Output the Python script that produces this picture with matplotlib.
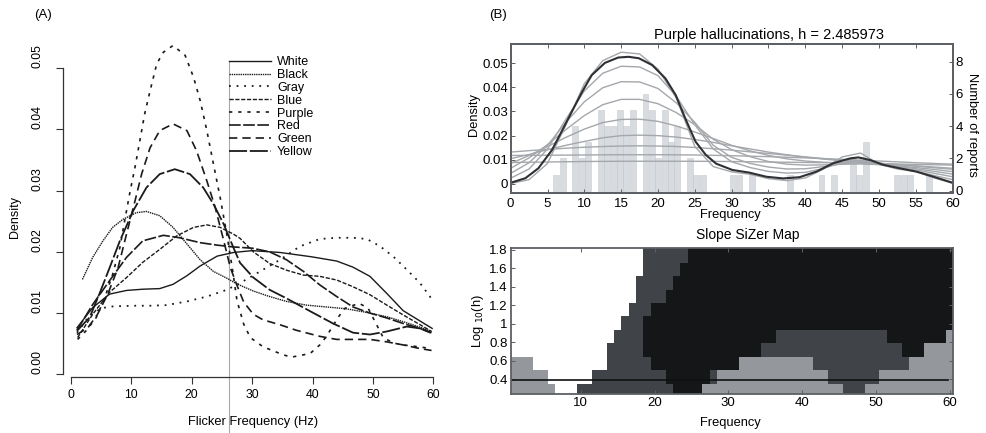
import matplotlib
matplotlib.use("Agg")
import matplotlib.pyplot as plt
import numpy as np
from matplotlib.colors import ListedColormap
from matplotlib.lines import Line2D

plt.rcParams['font.family'] = ['Liberation Sans', 'DejaVu Sans']
plt.rcParams['font.size'] = 9

# ---------------------------------------------------------------- panel A data
# density curves per hallucination colour
white_x = [1, 3.6, 6.4, 9.2, 11.9, 14.7, 16.9, 19.2, 21.4, 24.2, 26.9, 30, 34.6, 39.8, 44, 46.7, 49.5, 52.3, 55, 57.8, 59.8]
white_y = [0.0076, 0.0109, 0.0131, 0.0137, 0.0139, 0.0140, 0.0147, 0.0161, 0.0177, 0.0193, 0.0199, 0.0202, 0.0199,
           0.0192, 0.0185, 0.0175, 0.0160, 0.0132, 0.0104, 0.0087, 0.0075]

black_x = [1.9, 3.6, 5.3, 6.9, 8.6, 10.8, 12.5, 14.7, 16.9, 19.2, 21.4, 23.6, 25.8, 27.4, 30.2, 32.9, 35.7, 39, 42.3,
           45.6, 49, 52.3, 55, 57.8, 59.7]
black_y = [0.0155, 0.0191, 0.0218, 0.0240, 0.0253, 0.0264, 0.0266, 0.0259, 0.0240, 0.0213, 0.0187, 0.0168, 0.0157,
           0.0148, 0.0136, 0.0127, 0.0119, 0.0113, 0.0110, 0.0107, 0.0101, 0.0094, 0.0086, 0.0077, 0.0070]

gray_x = [1, 3, 5, 7, 10.3, 13, 15.8, 19.2, 22.5, 25.8, 28, 31.3, 34.6, 37.9, 41.2, 44, 46.7, 49, 51.2, 53.4, 55.6, 57.8, 59.8]
gray_y = [0.0068, 0.0095, 0.0108, 0.0111, 0.0112, 0.0112, 0.0113, 0.0119, 0.0127, 0.0138, 0.0149, 0.0168, 0.0187,
          0.0209, 0.0221, 0.0223, 0.0223, 0.0221, 0.0209, 0.0192, 0.0171, 0.0149, 0.0122]

blue_x = [1.1, 3.6, 6.4, 9.2, 11.9, 14.7, 17.5, 20.3, 22.5, 24.7, 26.9, 28, 30.2, 32.9, 35.7, 38.5, 41.2, 44, 46.7,
          49.5, 52.3, 55, 57.8, 59.7]
blue_y = [0.0060, 0.0098, 0.0134, 0.0158, 0.0183, 0.0204, 0.0226, 0.0240, 0.0244, 0.0240, 0.0229, 0.0222, 0.0200,
          0.0181, 0.0170, 0.0162, 0.0160, 0.0154, 0.0143, 0.0130, 0.0113, 0.0097, 0.0081, 0.0070]

purple_x = [1.1, 2.5, 4.2, 5.6, 6.9, 8.1, 8.9, 9.7, 10.6, 11.4, 12.2, 13.1, 14.2, 15.3, 16.9, 18.9, 20.3, 21.4, 22.5,
            23.6, 24.7, 25.8, 26.7, 27.5, 28.6, 29.7, 31.8, 35.1, 36.5, 39.6, 41.2, 42.3, 44.3, 45.4, 47.7, 49.2,
            50.6, 51.7, 53.4, 55, 57.5, 59.7]
purple_y = [0.0057, 0.0071, 0.0093, 0.0125, 0.0163, 0.0207, 0.0251, 0.0294, 0.0338, 0.0381, 0.0425, 0.0463, 0.0507,
            0.0526, 0.0537, 0.0521, 0.0485, 0.0447, 0.0398, 0.0343, 0.0289, 0.0229, 0.0174, 0.0120, 0.0082, 0.0060,
            0.0045, 0.0032, 0.0028, 0.0034, 0.0048, 0.0062, 0.0094, 0.0108, 0.0116, 0.0108, 0.0081, 0.0060, 0.0051,
            0.0048, 0.0045, 0.0042]

red_x = [1, 3.6, 6.4, 9.2, 11.9, 15.3, 18, 21.4, 24.2, 26.9, 30, 32.9, 35.7, 38.5, 41.2, 44, 46.7, 49.5, 52.3, 55, 57.8, 59.7]
red_y = [0.0072, 0.0114, 0.0153, 0.0191, 0.0218, 0.0227, 0.0223, 0.0215, 0.0211, 0.0208, 0.0206, 0.0200, 0.0187,
         0.0168, 0.0146, 0.0127, 0.0110, 0.0100, 0.0092, 0.0083, 0.0075, 0.0067]

green_x = [1, 2.8, 4.4, 6.1, 7.8, 9.2, 10.6, 11.7, 13.1, 14.7, 16.9, 19.2, 20.8, 22.5, 23.9, 25.3, 26.4, 27.5, 28.6,
           30.2, 31.8, 34.6, 37.3, 41.2, 44, 46.7, 49.5, 52.3, 55, 57.8, 59.7]
green_y = [0.0065, 0.0076, 0.0098, 0.0131, 0.0174, 0.0229, 0.0283, 0.0327, 0.0370, 0.0398, 0.0409, 0.0398, 0.0365,
           0.0316, 0.0272, 0.0218, 0.0174, 0.0145, 0.0118, 0.0098, 0.0089, 0.0081, 0.0072, 0.0062, 0.0057, 0.0057,
           0.0057, 0.0053, 0.0048, 0.0042, 0.0039]

yellow_x = [1, 3.1, 4.7, 6.4, 8.1, 10.3, 12.5, 14.7, 17.2, 19.7, 21.9, 23.6, 25.3, 26.9, 28, 30.2, 32.9, 35.7, 39.8,
            43.4, 46.7, 49.5, 52.3, 55.6, 57.8, 59.7]
yellow_y = [0.0071, 0.0093, 0.0131, 0.0174, 0.0218, 0.0267, 0.0305, 0.0327, 0.0335, 0.0327, 0.0305, 0.0278, 0.0245,
            0.0207, 0.0182, 0.0158, 0.0138, 0.0124, 0.0102, 0.0083, 0.0068, 0.0065, 0.0070, 0.0078, 0.0075, 0.0068]

colour_names = ["White", "Black", "Gray", "Blue", "Purple", "Red", "Green", "Yellow"]
colour_curves = [(white_x, white_y), (black_x, black_y), (gray_x, gray_y), (blue_x, blue_y),
                 (purple_x, purple_y), (red_x, red_y), (green_x, green_y), (yellow_x, yellow_y)]
# (linewidth, dash pattern) per colour
curve_styles = [(1.0, None), (1.0, (1, 0.6)), (1.3, (1, 3.2)), (1.0, (3, 1.2)),
                (1.2, (2, 3.5)), (1.2, (7, 1.5)), (1.2, (5, 3)), (1.3, (10, 1.5))]
split_freq = 26.2  # vertical reference line

# ---------------------------------------------------------------- panel B data
# histogram of purple reports (bar centre, count)
bar_freq = [6.2, 7.06, 8.79, 9.66, 10.52, 12.25, 13.11, 13.98, 14.84, 15.7, 16.57, 18.3, 19.16, 20.02, 20.89,
            21.75, 22.62, 24.34, 25.21, 26.07, 30.2, 31.06, 32.77, 37.9, 42.19, 43.9, 46.48, 47.34, 48.19,
            52.48, 53.34, 54.19, 56.76]
bar_count = [1, 2, 4, 2, 3, 5, 4, 4, 5, 4, 5, 6, 5, 2, 5, 3, 4, 2, 1, 1, 1, 1, 1, 1, 1, 1, 2, 1, 3, 1, 1, 1, 1]

# family of smooths (gray) evaluated at these frequencies
fam_x = [0, 2.5, 5, 7.5, 10, 12.5, 15, 17.5, 20, 22.5, 25, 27.5, 30, 32.5, 35, 37.5, 40, 42.5, 45, 47.5, 50,
         52.5, 55, 57.5, 60]
fam_g1 = [0.0002, 0.0018, 0.0085, 0.0245, 0.0415, 0.0510, 0.0545, 0.0538, 0.0475, 0.0355, 0.0155, 0.0072, 0.0050,
          0.0040, 0.0022, 0.0014, 0.0025, 0.0062, 0.0112, 0.0128, 0.0082, 0.0062, 0.0052, 0.0025, 0.0003]
fam_g3 = [0.0024, 0.0062, 0.0145, 0.0268, 0.0385, 0.0458, 0.0487, 0.0484, 0.0448, 0.0362, 0.0245, 0.0145, 0.0092,
          0.0068, 0.0052, 0.0045, 0.0048, 0.0065, 0.0088, 0.0098, 0.0085, 0.0068, 0.0052, 0.0035, 0.0018]
fam_g4 = [0.0044, 0.0088, 0.0160, 0.0255, 0.0340, 0.0398, 0.0423, 0.0422, 0.0395, 0.0335, 0.0255, 0.0160, 0.0110,
          0.0085, 0.0070, 0.0062, 0.0063, 0.0072, 0.0083, 0.0088, 0.0082, 0.0071, 0.0058, 0.0044, 0.0030]
fam_g5 = [0.0065, 0.0108, 0.0163, 0.0225, 0.0283, 0.0328, 0.0350, 0.0350, 0.0332, 0.0295, 0.0245, 0.0185, 0.0142,
          0.0113, 0.0093, 0.0082, 0.0078, 0.0079, 0.0082, 0.0083, 0.0080, 0.0073, 0.0063, 0.0052, 0.0041]
fam_g6 = [0.0085, 0.0118, 0.0155, 0.0193, 0.0227, 0.0254, 0.0267, 0.0268, 0.0259, 0.0240, 0.0215, 0.0188, 0.0160,
          0.0137, 0.0118, 0.0104, 0.0095, 0.0090, 0.0087, 0.0085, 0.0081, 0.0075, 0.0068, 0.0060, 0.0051]
fam_g7 = [0.0105, 0.0122, 0.0142, 0.0160, 0.0176, 0.0191, 0.0200, 0.0202, 0.0200, 0.0194, 0.0184, 0.0172, 0.0158,
          0.0145, 0.0132, 0.0121, 0.0111, 0.0103, 0.0096, 0.0091, 0.0086, 0.0080, 0.0074, 0.0067, 0.0061]
fam_g8 = [0.0132, 0.0138, 0.0143, 0.0148, 0.0152, 0.0155, 0.0157, 0.0158, 0.0157, 0.0155, 0.0151, 0.0146, 0.0140,
          0.0133, 0.0126, 0.0119, 0.0112, 0.0105, 0.0098, 0.0092, 0.0086, 0.0080, 0.0075, 0.0070, 0.0065]
flat_x = [0, 5, 10, 15, 20, 25, 30, 35, 40, 45, 50, 55, 60]
flat_g9 = [0.0118, 0.0119, 0.0120, 0.0121, 0.0121, 0.0120, 0.0117, 0.0113, 0.0108, 0.0102, 0.0095, 0.0088, 0.0082]
flat_g10 = [0.0089, 0.0091, 0.0093, 0.0094, 0.0094, 0.0094, 0.0093, 0.0091, 0.0089, 0.0087, 0.0084, 0.0081, 0.0078]

# the chosen smooth, h = 2.485973
h_bw = 2.485973
sel_x = [0, 2.0, 3.76, 5.6, 6.9, 8.3, 9.7, 11.0, 12.8, 14.6, 16.0, 17.4, 19.2, 21.0, 22.4, 23.8, 25.1, 26.5, 27.9,
         30.1, 32.4, 34.7, 37, 39.2, 41.5, 43.8, 46.1, 47.2, 48.8, 50.6, 52.8, 55.1, 57.4, 60]
sel_y = [0.0005, 0.0024, 0.0065, 0.0140, 0.0216, 0.0299, 0.0381, 0.0450, 0.0501, 0.0523, 0.0526, 0.0520, 0.0492,
         0.0437, 0.0368, 0.0264, 0.0175, 0.0120, 0.0084, 0.0058, 0.0047, 0.0030, 0.0023, 0.0028, 0.0051, 0.0086,
         0.0106, 0.0110, 0.0099, 0.0079, 0.0065, 0.0051, 0.0030, 0.0005]

# SiZer map: per log10(h) row, runs of (class, last frequency cell); 0 white, 1 light, 2 dark, 3 black
sizer_logh_edges = [0.2075, 0.353, 0.4985, 0.644, 0.7895, 0.935, 1.0805, 1.226, 1.3715, 1.517, 1.6625, 1.85]
sizer_freq_edges = np.arange(0.5, 61.0, 1.0)
sizer_rows = [
    [(1, 6), (0, 9), (2, 22), (3, 26), (1, 45), (2, 48), (1, 60)],
    [(1, 5), (0, 11), (2, 21), (3, 27), (2, 28), (1, 43), (2, 50), (1, 60)],
    [(1, 3), (0, 13), (2, 19), (3, 31), (1, 41), (2, 54), (1, 60)],
    [(0, 13), (2, 18), (3, 34), (2, 53), (3, 56), (1, 60)],
    [(0, 14), (2, 18), (3, 36), (2, 51), (3, 59), (1, 60)],
    [(0, 15), (2, 18), (3, 60)],
    [(0, 16), (2, 19), (3, 60)],
    [(0, 17), (2, 21), (3, 60)],
    [(0, 17), (2, 22), (3, 60)],
    [(0, 18), (2, 23), (3, 60)],
    [(0, 18), (2, 24), (3, 60)],
]
sizer_colours = ["#ffffff", "#94979b", "#404449", "#151618"]
bw_line_x = (0.6, 59.8)

INK = "#1a1a1a"
FRAME = "#5c5f63"
W, H = 987, 433

fig = plt.figure(figsize=(W / 100, H / 100), dpi=100)


def label(px, py, s, **kw):
    """Centred figure text placed in reference pixel coordinates."""
    fig.text(px / W, 1 - py / H, s, ha="center", va="center", rotation_mode="anchor", **kw)


# ---------------------------------------------------------------- panel A
axA = fig.add_axes([0.0638, 0.1293, 0.382, 0.7783])
handles = []
for name, (xs, ys), (lw, dash) in zip(colour_names, colour_curves, curve_styles):
    ls = "-" if dash is None else (0, dash)
    axA.plot(xs, ys, color=INK, lw=lw, ls=ls, dash_capstyle="butt")
    handles.append(Line2D([], [], color=INK, lw=lw, ls=ls))
axA.plot([split_freq, split_freq], [0.935, -0.166], transform=axA.get_xaxis_transform(),
         color="#a8a8a8", lw=0.8, clip_on=False, zorder=0)
axA.set_xlim(-1.32, 61.1)
axA.set_ylim(-0.00044, 0.0546)
for s in ("top", "right"):
    axA.spines[s].set_visible(False)
axA.spines["left"].set_bounds(0, 0.05)
axA.spines["bottom"].set_bounds(0, 60)
for s in ("left", "bottom"):
    axA.spines[s].set_color("#333333")
    axA.spines[s].set_linewidth(0.9)
axA.set_xticks(range(0, 61, 10))
axA.set_yticks([0, 0.01, 0.02, 0.03, 0.04, 0.05])
axA.set_yticklabels(["0.00", "0.01", "0.02", "0.03", "0.04", "0.05"], rotation=90, va="bottom")
axA.tick_params(axis="both", direction="out", length=4.8, width=0.8, color="#333333", labelsize=8.8)
axA.tick_params(axis="x", pad=4)
axA.tick_params(axis="y", pad=9)
axA.legend(handles, colour_names, loc="upper left", bbox_to_anchor=(0.4403, 0.9525),
           bbox_transform=axA.transAxes, frameon=False, fontsize=9, handlelength=3.4,
           handletextpad=0.45, labelspacing=0.07, borderpad=0, borderaxespad=0)
label(253, 422, "Flicker Frequency (Hz)", fontsize=9.3)
label(15, 217, "Density", fontsize=9, rotation=90)
label(43, 15, "(A)", fontsize=9.5)

# ---------------------------------------------------------------- panel B, top
axB = fig.add_axes([0.5174, 0.5543, 0.4478, 0.3441])
axR = axB.twinx()
axB.set_zorder(axR.get_zorder() + 1)
axB.patch.set_visible(False)
axR.bar(bar_freq, bar_count, width=0.8, color="#d2d6db", edgecolor="#c0c5ca", lw=0.4, alpha=0.85)
for ys in (fam_g8, fam_g7, fam_g6, fam_g5, fam_g4, fam_g3, fam_g1):
    axB.plot(fam_x, ys, color="#a4a7ab", lw=1.0)
for ys in (flat_g9, flat_g10):
    axB.plot(flat_x, ys, color="#a4a7ab", lw=1.0)
axB.plot(sel_x, sel_y, color="#2e3033", lw=1.5)
axB.set_xlim(0, 60)
axB.set_ylim(-0.00372, 0.0579)
axR.set_ylim(-0.143, 9.10)
axB.set_xticks(range(0, 61, 5))
axB.set_yticks([0, 0.01, 0.02, 0.03, 0.04, 0.05])
axB.set_yticklabels(["0", "0.01", "0.02", "0.03", "0.04", "0.05"])
axR.set_yticks([0, 2, 4, 6, 8])
axB.tick_params(axis="both", direction="in", length=3, width=0.7, color=FRAME, labelsize=9.5,
                top=True, pad=2)
axB.tick_params(axis="x", pad=3.5)
axR.tick_params(axis="y", direction="in", length=3, width=0.7, color=FRAME, labelsize=9.5, pad=2)
for ax in (axB, axR):
    for s in ax.spines.values():
        s.set_color(FRAME)
        s.set_linewidth(1.3)
label(730, 215, "Frequency", fontsize=9.3)
label(474, 115, "Density", fontsize=9.3, rotation=90)
label(972, 125, "Number of reports", fontsize=9.3, rotation=270)
label(769, 35, f"Purple hallucinations, h = {h_bw:.6f}", fontsize=10.5)
label(498, 15, "(B)", fontsize=9.5)

# ---------------------------------------------------------------- panel B, SiZer map
axS = fig.add_axes([0.5174, 0.0901, 0.4484, 0.3365])
sizer = np.zeros((len(sizer_rows), len(sizer_freq_edges) - 1), dtype=int)
for r, runs in enumerate(sizer_rows):
    start = 0
    for code, last in runs:
        sizer[r, start:last] = code
        start = last
axS.pcolormesh(sizer_freq_edges, sizer_logh_edges, sizer, cmap=ListedColormap(sizer_colours),
               vmin=-0.5, vmax=3.5, shading="flat")
axS.plot(bw_line_x, [np.log10(h_bw)] * 2, color="#111111", lw=1.2)
axS.set_xlim(0.5, 60.5)
axS.set_ylim(0.241, 1.818)
axS.set_xticks(range(10, 61, 10))
axS.set_yticks([0.4, 0.6, 0.8, 1.0, 1.2, 1.4, 1.6, 1.8])
axS.set_yticklabels(["0.4", "0.6", "0.8", "1", "1.2", "1.4", "1.6", "1.8"])
axS.tick_params(axis="both", direction="in", length=3, width=0.7, color=FRAME, labelsize=9.5,
                top=True, right=True, pad=2)
for s in axS.spines.values():
    s.set_color(FRAME)
    s.set_linewidth(1.3)
label(730, 423, "Frequency", fontsize=9.3)
label(478, 321, "Log $_{10}$(h)", fontsize=9.3, rotation=90)
label(748, 235, "Slope SiZer Map", fontsize=10)

fig.savefig("out.png", dpi=100)
